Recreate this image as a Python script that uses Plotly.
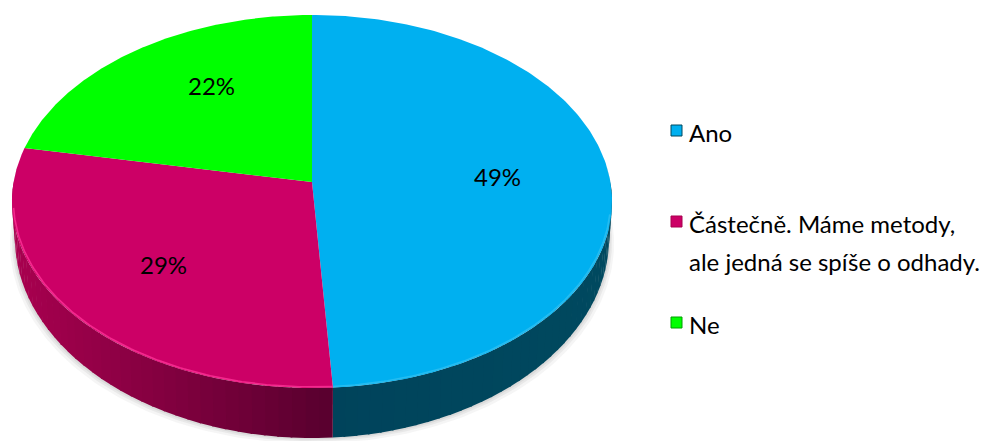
import numpy as np
import plotly.graph_objects as go

# ---- data -------------------------------------------------------------
categories = ["Ano", "Částečně. Máme metody, ale jedná se spíše o odhady.", "Ne"]
shares = [49, 29, 22]
value_labels = ["49%", "29%", "22%"]

# ---- styling ----------------------------------------------------------
top_colors = ["#00B0F0", "#CC0066", "#00FF00"]
side_light = ["#00495F", "#A8004F", "#00A000"]
side_dark = ["#00435B", "#5A002F", "#006000"]
rim_colors = ["#2FC0F2", "#FF3399", "#66FF66"]
FONT = "Lato"
FONT_SIZE = 24

W, H = 995, 441

# perspective projection of the tilted disc (pixel space)
CX, CY = 312.0, 182.0
A, B, K = 298.4, 184.5, 0.1045
H0, K2 = 36.0, 0.28


def top_xy(theta_deg, r=1.0):
    t = np.radians(theta_deg)
    u, v = r * np.sin(t), r * np.cos(t)
    w = 1 + K * v
    return CX + A * u / w, CY - B * v / w


def bottom_xy(theta_deg):
    x, y = top_xy(theta_deg)
    t = np.radians(theta_deg)
    return CX + (x - CX) * 0.99, y + H0 / (1 + K2 * np.cos(t))


def mix(c1, c2, f):
    a = [int(c1[i:i + 2], 16) for i in (1, 3, 5)]
    b = [int(c2[i:i + 2], 16) for i in (1, 3, 5)]
    return "rgb({},{},{})".format(*[round(a[i] + (b[i] - a[i]) * f) for i in range(3)])


total = sum(shares)
bounds = np.concatenate([[0], np.cumsum(shares)]) / total * 360.0

fig = go.Figure()


def poly(xs, ys, color, opacity=1.0):
    fig.add_trace(go.Scatter(
        x=list(xs), y=list(ys), mode="lines", fill="toself",
        fillcolor=color, line=dict(width=0, color=color), opacity=opacity,
        hoverinfo="skip", showlegend=False))


# soft drop shadow under the disc
th = np.linspace(85, 275, 200)
for off, op in [(5, 0.10), (3, 0.14), (1.5, 0.18)]:
    bx, by = bottom_xy(th)
    tx, ty = top_xy(th[::-1])
    xs = np.concatenate([bx + np.sign(bx - CX) * off, tx])
    ys = np.concatenate([by + off, ty])
    poly(xs, ys, "#9a9a9a", op)

# outer side walls (front half only)
for i in range(len(shares)):
    a0, a1 = max(bounds[i], 90.0), min(bounds[i + 1], 270.0)
    if a1 <= a0:
        continue
    n = 40
    edges = np.linspace(a0, a1, n + 1)
    for j in range(n):
        seg = np.linspace(edges[j], edges[j + 1] + (0.3 if j < n - 1 else 0), 6)
        tx, ty = top_xy(seg)
        bx, by = bottom_xy(seg[::-1])
        xm = top_xy((edges[j] + edges[j + 1]) / 2)[0]
        if i == 1:
            f = np.clip((xm - 15) / (322 - 15), 0, 1)
        else:
            f = np.clip((612 - xm) / (612 - 322), 0, 1)
        poly(np.concatenate([tx, bx]), np.concatenate([ty, by]),
             mix(side_light[i], side_dark[i], f))

# top faces
for i in range(len(shares)):
    seg = np.linspace(bounds[i], bounds[i + 1], 200)
    tx, ty = top_xy(seg)
    poly(np.concatenate([[CX], tx, [CX]]), np.concatenate([[CY], ty, [CY]]),
         top_colors[i])

# light rim on the front edge of the top face
for i in range(len(shares)):
    a0, a1 = max(bounds[i], 100.0), min(bounds[i + 1], 262.0)
    if a1 <= a0:
        continue
    seg = np.linspace(a0, a1, 120)
    tx, ty = top_xy(seg, 0.995)
    fig.add_trace(go.Scatter(x=tx, y=ty, mode="lines",
                             line=dict(color=rim_colors[i], width=1.6),
                             opacity=0.8, hoverinfo="skip", showlegend=False))

# percentage labels, placed at each slice's mid angle
label_r = 0.62
label_shift = [(1, 2), (-4, -3), (12, 13)]
for i, lab in enumerate(value_labels):
    mid = (bounds[i] + bounds[i + 1]) / 2
    x, y = top_xy(mid, label_r)
    fig.add_annotation(x=x, y=y, text=lab, showarrow=False,
                       xshift=label_shift[i][0], yshift=label_shift[i][1],
                       font=dict(family=FONT, size=FONT_SIZE, color="#000000"))

# legend
legend_y = [131, 222, 323]
line_gap = 38
for i, name in enumerate(categories):
    y0 = legend_y[i]
    fig.add_shape(type="rect", x0=671, x1=682, y0=y0 - 6, y1=y0 + 5,
                  fillcolor=top_colors[i],
                  line=dict(color=side_light[i], width=1))
    for k, line in enumerate(name.replace(", ", ",\n").split("\n")):
        fig.add_annotation(x=687, y=y0 + 1 + k * line_gap, text=line,
                           showarrow=False, xanchor="left", yanchor="middle",
                           font=dict(family=FONT, size=FONT_SIZE, color="#000000"))

fig.update_xaxes(range=[0, W], visible=False, fixedrange=True)
fig.update_yaxes(range=[H, 0], visible=False, fixedrange=True)
fig.update_layout(width=W, height=H, margin=dict(l=0, r=0, t=0, b=0),
                  paper_bgcolor="white", plot_bgcolor="white")

fig.write_html("out.html")
